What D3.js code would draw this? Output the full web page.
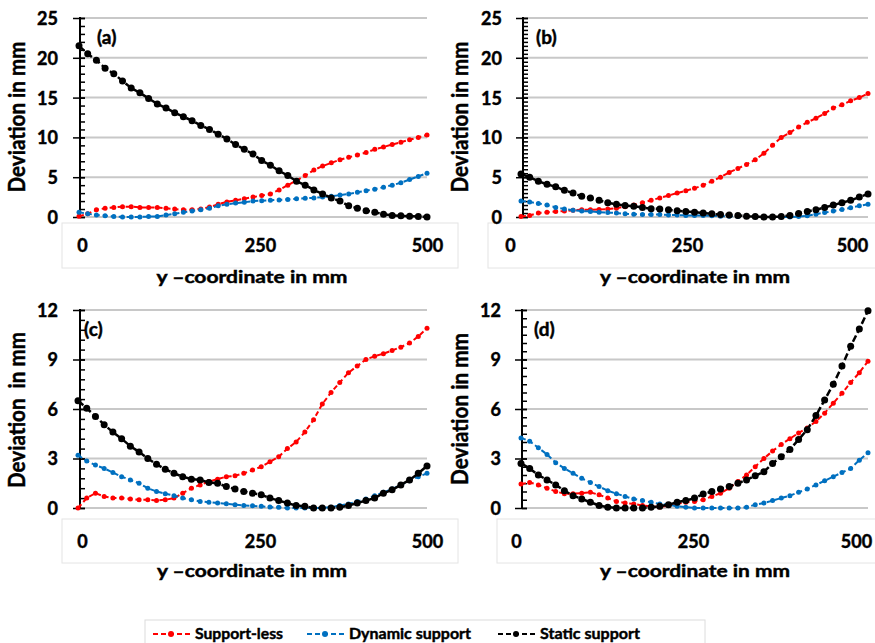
<!DOCTYPE html>
<html>
<head>
<meta charset="utf-8">
<script src="https://cdn.jsdelivr.net/npm/d3@7"></script>
<style>
  body { margin: 0; background: #fff; }
  svg { display: block; }
  svg text { font-family: Lato, "Open Sans", sans-serif; font-weight: bold; fill: #000; stroke: #000; stroke-width: 0.45px; }
</style>
</head>
<body>
<script>
// y-coordinate of the measuring points (mm)
var yCoord = [0,12.5,25,37.5,50,62.5,75,87.5,100,112.5,125,137.5,150,162.5,175,187.5,200,212.5,225,237.5,
  250,262.5,275,287.5,300,312.5,325,337.5,350,362.5,375,387.5,400,412.5,425,437.5,450,462.5,475,487.5,500];
var xTickLabels = [0, 250, 500];
var topTicks = [0, 5, 10, 15, 20, 25];
var bottomTicks = [0, 3, 6, 9, 12];
var seriesNames = ["Support-less", "Dynamic support", "Static support"];
var seriesColors = ["#ff0000", "#0070c0", "#000000"];

// (a)
var aSupportLess = [0.1,0.4,0.9,1.1,1.2,1.3,1.3,1.2,1.2,1.2,1.1,1.0,0.9,0.9,1.0,1.25,1.6,1.9,2.1,2.3,
  2.5,2.7,2.9,3.4,4.0,4.6,5.2,5.9,6.4,6.8,7.2,7.5,7.8,8.1,8.5,8.8,9.1,9.4,9.7,10.0,10.3];
var aDynamic = [0.6,0.4,0.25,0.15,0.05,0,0,0,0.05,0.05,0.25,0.4,0.6,0.75,0.9,1.1,1.4,1.6,1.75,1.85,
  2.0,2.05,2.1,2.15,2.2,2.3,2.35,2.4,2.5,2.6,2.75,2.9,3.1,3.3,3.5,3.75,4.0,4.3,4.7,5.1,5.5];
var aStatic = [21.5,20.5,19.7,18.7,18.0,17.1,16.2,15.6,14.9,14.2,13.7,13.1,12.6,12.1,11.5,11.0,10.4,9.8,9.1,8.5,
  7.9,7.1,6.5,5.8,5.2,4.5,4.0,3.4,2.9,2.4,2.0,1.4,1.1,0.8,0.6,0.35,0.2,0.15,0.1,0.05,0];
// (b)
var bSupportLess = [0.05,0.2,0.5,0.6,0.7,0.75,0.85,0.9,0.9,0.95,1.0,1.1,1.3,1.5,1.8,2.1,2.4,2.7,3.0,3.3,
  3.6,4.0,4.5,5.0,5.6,6.1,6.6,7.2,8.0,9.0,10.0,10.6,11.3,11.9,12.4,13.0,13.7,14.1,14.6,15.0,15.5];
var bDynamic = [2.0,1.9,1.7,1.5,1.2,1.0,0.85,0.75,0.7,0.6,0.55,0.5,0.4,0.35,0.3,0.3,0.3,0.25,0.25,0.2,
  0.2,0.2,0.15,0.1,0.1,0.05,0.05,0,0,0,0,0,0.05,0.15,0.35,0.55,0.75,0.95,1.15,1.4,1.6];
var bStatic = [5.4,5.0,4.5,4.1,3.8,3.35,3.0,2.6,2.4,2.1,1.8,1.6,1.45,1.35,1.2,1.05,1.0,0.9,0.8,0.7,
  0.6,0.5,0.4,0.3,0.25,0.2,0.1,0.05,0,0,0.05,0.2,0.45,0.7,0.9,1.2,1.5,1.8,2.1,2.5,2.9];
// (c)
var cSupportLess = [0,0.6,0.9,0.7,0.6,0.6,0.55,0.5,0.5,0.45,0.5,0.6,0.9,1.2,1.4,1.6,1.75,1.9,1.95,2.1,
  2.3,2.5,2.8,3.1,3.6,4.0,4.6,5.35,6.3,7.0,7.6,8.2,8.6,9.0,9.2,9.35,9.55,9.75,10.0,10.4,10.9];
var cDynamic = [3.2,2.85,2.6,2.4,2.15,1.9,1.7,1.5,1.2,1.0,0.87,0.75,0.6,0.5,0.4,0.35,0.3,0.26,0.2,0.15,
  0.13,0.1,0.06,0.04,0,0,0,0,0,0.05,0.15,0.25,0.4,0.55,0.75,0.95,1.15,1.4,1.65,1.9,2.1];
var cStatic = [6.5,6.05,5.55,5.05,4.6,4.2,3.75,3.4,3.0,2.65,2.35,2.1,1.9,1.75,1.7,1.55,1.5,1.3,1.15,1.0,
  0.9,0.8,0.6,0.45,0.3,0.15,0.1,0,0,0,0.05,0.15,0.3,0.45,0.6,0.9,1.1,1.4,1.7,2.1,2.55];
// (d)
var dSupportLess = [1.45,1.55,1.4,1.2,1.0,0.87,0.87,0.9,0.95,0.8,0.6,0.4,0.3,0.25,0.15,0.1,0.06,0.15,0.25,0.35,
  0.4,0.5,0.7,0.9,1.2,1.6,2.0,2.5,3.0,3.45,3.85,4.2,4.55,4.85,5.25,5.75,6.35,6.95,7.6,8.2,8.9];
var dDynamic = [4.25,4.05,3.65,3.25,2.75,2.4,2.1,1.8,1.55,1.3,1.05,0.87,0.7,0.55,0.45,0.35,0.25,0.2,0.1,0.05,
  0,0,0,0,0,0,0.05,0.2,0.3,0.45,0.6,0.75,0.95,1.15,1.4,1.65,1.9,2.15,2.4,2.9,3.35];
var dStatic = [2.7,2.4,2.0,1.7,1.4,1.05,0.75,0.55,0.35,0.15,0.05,0,0,0,0,0.05,0.1,0.2,0.35,0.45,
  0.6,0.85,1.0,1.15,1.3,1.5,1.7,1.95,2.2,2.7,3.1,3.55,4.15,4.75,5.6,6.55,7.5,8.6,9.8,10.85,11.95];

// layout of the four panels
var panels = [
  {tag:"(a)", data:[aSupportLess,aDynamic,aStatic], ticks:topTicks, minor:1,
   axisX:80, x0:79, x1:427, top:18, bottom:217, pad:15, labelPos:[82,260,427], labelY:252,
   box:[62,223,458,268], xTitle:[252,283,191], yTitle:[25,117,151], yText:"Deviation in mm", tagPos:[97,44]},
  {tag:"(b)", data:[bSupportLess,bDynamic,bStatic], ticks:topTicks, minor:0.5,
   axisX:523, x0:521, x1:868, top:18, bottom:217, pad:14, labelPos:[510,687,852], labelY:252,
   box:[488,223,880,268], xTitle:[695,283,190], yTitle:[468,117,151], yText:"Deviation in mm", tagPos:[536,44]},
  {tag:"(c)", data:[cSupportLess,cDynamic,cStatic], ticks:bottomTicks, minor:0.6,
   axisX:80, x0:78, x1:427, top:310, bottom:508, pad:15, labelPos:[82,260,427], labelY:548,
   box:[62,519,458,563], xTitle:[252,577,190], yTitle:[25,410,156], yText:"Deviation  in mm", tagPos:[84,336]},
  {tag:"(d)", data:[dSupportLess,dDynamic,dStatic], ticks:bottomTicks, minor:0.5,
   axisX:522, x0:521, x1:868, top:310, bottom:508, pad:14, labelPos:[516,693,856], labelY:548,
   box:[497,519,880,563], xTitle:[695,577,190], yTitle:[468,409,152], yText:"Deviation in mm", tagPos:[534,336]}
];

var svg = d3.select("body").append("svg")
  .attr("width", 875)
  .attr("height", 643);

panels.forEach(function(p) {
  var g = svg.append("g");
  var yMax = p.ticks[p.ticks.length-1];
  var y = d3.scaleLinear().domain([0, yMax]).range([p.bottom, p.top]);
  var x = d3.scaleLinear().domain([0, 500]).range([p.x0, p.x1]);
  var xl = d3.scaleLinear().domain(xTickLabels).range(p.labelPos);

  // box holding the x tick labels
  g.append("rect")
    .attr("x", p.box[0]).attr("y", p.box[1])
    .attr("width", p.box[2]-p.box[0]).attr("height", p.box[3]-p.box[1])
    .attr("fill", "#fff").attr("stroke", "#e4e4e4");

  // gridlines
  g.selectAll("line.grid").data(p.ticks).enter().append("line")
    .attr("class", "grid")
    .attr("x1", p.axisX).attr("x2", p.x1)
    .attr("y1", function(d){ return y(d); }).attr("y2", function(d){ return y(d); })
    .attr("stroke", "#c8c8c8").attr("stroke-width", 2);

  // minor ticks (inside)
  var minorAxis = d3.axisRight(y).tickValues(d3.range(0, yMax+0.001, p.minor))
    .tickSize(5).tickSizeOuter(0).tickFormat("");
  var mg = g.append("g").attr("transform", "translate("+p.axisX+",0)").call(minorAxis);
  mg.select(".domain").remove();
  mg.selectAll("line").attr("stroke-width", 1.5);

  // major ticks + labels
  var majorAxis = d3.axisLeft(y).tickValues(p.ticks).tickSize(7).tickSizeOuter(0).tickPadding(p.pad);
  var ag = g.append("g").attr("transform", "translate("+p.axisX+",0)").call(majorAxis);
  ag.attr("font-family", null).attr("font-size", null);
  ag.select(".domain").attr("stroke-width", 2).attr("d", "M0,"+(p.top-1)+"V"+p.bottom);
  ag.selectAll(".tick line").attr("x2", 5).attr("x1", -7).attr("stroke-width", 1.5);
  ag.selectAll("text").style("font-size", "18px").attr("dy", "0.36em");

  // x tick labels
  var xg = g.append("g").attr("transform", "translate(0,"+p.labelY+")")
    .call(d3.axisBottom(xl).tickValues(xTickLabels).tickSize(0).tickPadding(0));
  xg.attr("font-family", null).attr("font-size", null);
  xg.select(".domain").remove();
  xg.selectAll("text").attr("y", 0).attr("dy", null).style("font-size", "18px");

  // series
  p.data.forEach(function(vals, k) {
    var line = d3.line()
      .x(function(d, i){ return x(yCoord[i]); })
      .y(function(d){ return y(d); });
    g.append("path").datum(vals)
      .attr("d", line)
      .attr("fill", "none")
      .attr("stroke", seriesColors[k])
      .attr("stroke-width", k == 2 ? 2.5 : 2)
      .attr("stroke-dasharray", k == 2 ? "7,3" : "5,3");
    g.selectAll("circle.s"+k).data(vals).enter().append("circle")
      .attr("class", "s"+k)
      .attr("cx", function(d, i){ return x(yCoord[i]); })
      .attr("cy", function(d){ return y(d); })
      .attr("r", k == 2 ? 3.5 : 2.5)
      .attr("fill", seriesColors[k]);
  });

  // titles
  g.append("text")
    .attr("x", p.xTitle[0]).attr("y", p.xTitle[1])
    .attr("text-anchor", "middle")
    .attr("textLength", p.xTitle[2]).attr("lengthAdjust", "spacingAndGlyphs")
    .style("font-size", "17px")
    .text("y \u2013coordinate in mm");
  g.append("text")
    .attr("transform", "translate("+p.yTitle[0]+","+p.yTitle[1]+") rotate(-90)")
    .attr("text-anchor", "middle")
    .attr("textLength", p.yTitle[2]).attr("lengthAdjust", "spacingAndGlyphs")
    .style("font-size", "22px").style("white-space", "pre")
    .text(p.yText);
  g.append("text")
    .attr("x", p.tagPos[0]).attr("y", p.tagPos[1])
    .style("font-size", "19px")
    .text(p.tag);
});

// legend
var legend = svg.append("g");
legend.append("rect")
  .attr("x", 145).attr("y", 620).attr("width", 560).attr("height", 30)
  .attr("fill", "none").attr("stroke", "#dcdcdc");
var legendX = [153, 307, 498];
var legendW = [88, 122, 100];
seriesNames.forEach(function(name, k) {
  var lx = legendX[k];
  legend.append("line")
    .attr("x1", lx).attr("x2", lx+39).attr("y1", 634).attr("y2", 634)
    .attr("stroke", seriesColors[k]).attr("stroke-width", 2)
    .attr("stroke-dasharray", "5,3");
  legend.append("circle")
    .attr("cx", lx+18).attr("cy", 634).attr("r", 3)
    .attr("fill", seriesColors[k]);
  legend.append("text")
    .attr("x", lx+42).attr("y", 639)
    .attr("textLength", legendW[k]).attr("lengthAdjust", "spacingAndGlyphs")
    .style("font-size", "16px")
    .text(name);
});
</script>
</body>
</html>
